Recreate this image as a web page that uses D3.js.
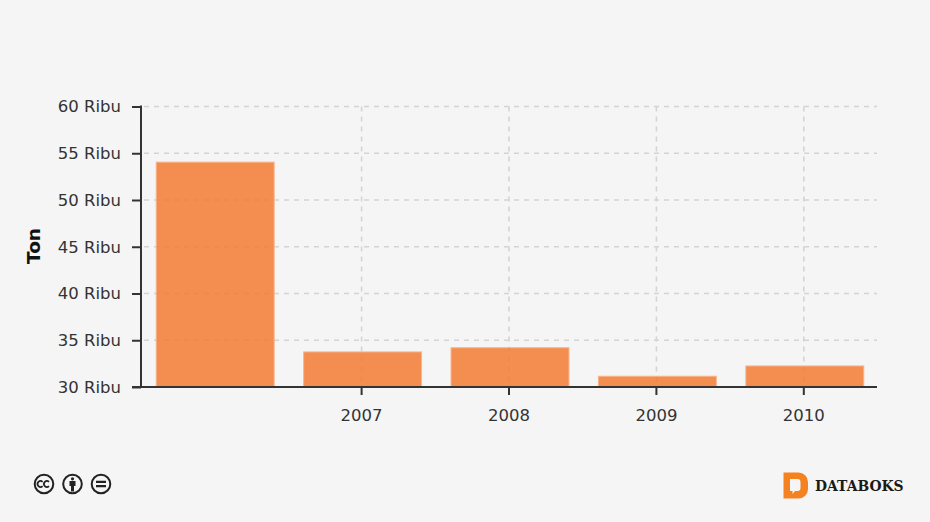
<!DOCTYPE html>
<html lang="en">

<head>
    <meta charset="utf-8">
    <title>Ton per tahun</title>
    <script type="text/javascript" src="https://cdn.jsdelivr.net/npm/d3@7"></script>
    <style type="text/css">
        html, body {
            margin: 0;
            padding: 0;
            background: #f5f5f5;
        }
        svg {
            display: block;
        }
        text {
            font-family: "DejaVu Sans", sans-serif;
        }
    </style>
</head>

<body>
    <script type="text/javascript">

        var categories = ["2006", "2007", "2008", "2009", "2010"];
        var tons = [54050, 33750, 34200, 31150, 32250];
        var xTickLabels = ["2007", "2008", "2009", "2010"];
        var yTicks = [30000, 35000, 40000, 45000, 50000, 55000, 60000];
        var yLabel = "Ton";
        var brand = "DATABOKS";

        var w = 930;
        var h = 522;
        var plotLeft = 141, plotRight = 877, plotTop = 106.5, plotBottom = 387;

        var svg = d3.select("body")
            .append("svg")
            .attr("width", w)
            .attr("height", h);

        var xScale = d3.scaleBand()
            .domain(categories)
            .range([plotLeft + 0.5, plotRight + 1.5])
            .paddingInner(0.2)
            .paddingOuter(0.1);

        var yScale = d3.scaleLinear()
            .domain([30000, 60000])
            .range([plotBottom, plotTop]);

        //Grid first, the bars sit over it
        var grid = svg.append("g")
            .attr("stroke", "#d4d4d4")
            .attr("stroke-dasharray", "5 5");

        grid.selectAll("line.h")
            .data(yTicks.slice(1))
            .enter()
            .append("line")
            .attr("class", "h")
            .attr("stroke-width", 1.6)
            .attr("x1", plotLeft + 3)
            .attr("x2", plotRight)
            .attr("y1", function (d) { return yScale(d); })
            .attr("y2", function (d) { return yScale(d); });

        grid.selectAll("line.v")
            .data(xTickLabels)
            .enter()
            .append("line")
            .attr("class", "v")
            .attr("stroke-width", 1.6)
            .attr("x1", function (d) { return xScale(d) + xScale.bandwidth() / 2 - 1; })
            .attr("x2", function (d) { return xScale(d) + xScale.bandwidth() / 2 - 1; })
            .attr("y1", plotTop)
            .attr("y2", plotBottom);

        svg.selectAll("rect.bar")
            .data(tons)
            .enter()
            .append("rect")
            .attr("class", "bar")
            .attr("x", function (d, i) { return xScale(categories[i]); })
            .attr("y", function (d) { return yScale(d); })
            .attr("width", xScale.bandwidth())
            .attr("height", function (d) { return plotBottom - yScale(d); })
            .attr("fill", "#f37a32")
            .attr("fill-opacity", 0.85)
            .attr("stroke", "#f9b48a")
            .attr("stroke-width", 1);

        //Axes
        var yAxis = d3.axisLeft(yScale)
            .tickValues(yTicks)
            .tickSize(9)
            .tickPadding(11)
            .tickFormat(function (d) { return (d / 1000) + " Ribu"; });

        var xAxis = d3.axisBottom(xScale)
            .tickValues(xTickLabels)
            .tickSize(8)
            .tickPadding(14);

        var gy = svg.append("g")
            .attr("transform", "translate(" + plotLeft + ",0)")
            .call(yAxis);

        var gx = svg.append("g")
            .attr("transform", "translate(-1," + plotBottom + ")")
            .call(xAxis);

        [gx, gy].forEach(function (g) {
            g.selectAll("path").attr("d", null);
            g.selectAll("line").attr("stroke", "#333").attr("stroke-width", 2);
            g.selectAll("text")
                .attr("fill", "#333")
                .style("font-size", "16.5px")
                .style("font-family", "'DejaVu Sans', sans-serif");
        });

        svg.append("line")
            .attr("x1", plotLeft).attr("x2", plotLeft)
            .attr("y1", plotTop - 1).attr("y2", plotBottom + 1)
            .attr("stroke", "#333").attr("stroke-width", 2);
        svg.append("line")
            .attr("x1", plotLeft - 9).attr("x2", plotRight)
            .attr("y1", plotBottom).attr("y2", plotBottom)
            .attr("stroke", "#333").attr("stroke-width", 2);

        svg.append("text")
            .attr("transform", "translate(40,246) rotate(-90)")
            .attr("text-anchor", "middle")
            .attr("font-size", "18.5px")
            .attr("font-weight", "bold")
            .attr("fill", "#111")
            .text(yLabel);

        //Licence badges
        var badges = svg.append("g").attr("fill", "none").attr("stroke", "#222");
        [44, 72.5, 101].forEach(function (cx) {
            badges.append("circle")
                .attr("cx", cx).attr("cy", 484).attr("r", 9.3)
                .attr("fill", "#f5f5f5")
                .attr("stroke-width", 2);
        });
        badges.append("path")
            .attr("d", "M42.6 481.8a3 3 0 1 0 0 4.4M49 481.8a3 3 0 1 0 0 4.4")
            .attr("stroke-width", 1.7);
        badges.append("circle")
            .attr("cx", 72.5).attr("cy", 478.8).attr("r", 1.6)
            .attr("fill", "#222").attr("stroke", "none");
        badges.append("path")
            .attr("d", "M69.5 481h6v5h-1.5v5.5h-3V486h-1.5z")
            .attr("fill", "#222").attr("stroke", "none");
        badges.append("path")
            .attr("d", "M96 481.8h10M96 486.2h10")
            .attr("stroke-width", 2.2);

        //Logo
        svg.append("path")
            .attr("d", "M783.5 472.5h15a9.5 9.5 0 0 1 9.5 9.5v7a9.5 9.5 0 0 1 -9.5 9.5h-15z")
            .attr("fill", "#f58220");
        svg.append("path")
            .attr("d", "M790 479h7.5a3 3 0 0 1 3 3v6a3 3 0 0 1 -3 3h-2.5l-2.5 3v-3h-2.5z")
            .attr("fill", "#f5f5f5");
        svg.append("text")
            .attr("x", 815)
            .attr("y", 491)
            .attr("font-size", "13.9px")
            .attr("font-weight", "bold")
            .attr("fill", "#1a1a1a")
            .style("font-family", "'DejaVu Serif', serif")
            .text(brand);

    </script>
</body>

</html>
